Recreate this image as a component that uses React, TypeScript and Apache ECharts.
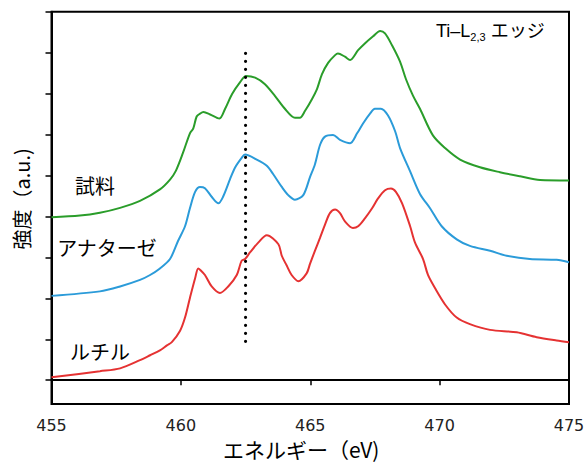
import React, { useEffect, useRef } from "react";
import * as echarts from "echarts";

// X axis: energy (eV)
const xTicks = [455, 460, 465, 470, 475];
// Y axis tick positions (arbitrary units, no labels)
const yTicks = [0, 1, 2, 3, 4, 5, 6, 7, 8, 9];

// 試料 (sample) – green
const sampleEV = [455.0, 456.1, 456.87, 457.65, 458.42, 459.19, 459.58, 459.81, 460.08, 460.35, 460.48, 460.61, 460.74, 460.87, 461.13, 461.49, 461.71, 461.98, 462.29, 462.52, 462.87, 463.25, 463.64, 464.02, 464.41, 464.6, 464.8, 465.07, 465.26, 465.45, 465.69, 465.96, 466.07, 466.34, 466.54, 466.85, 467.12, 467.43, 467.7, 467.89, 468.16, 468.47, 468.7, 468.97, 469.24, 469.74, 470.21, 470.79, 471.56, 472.33, 473.11, 473.88, 475.0];
const sampleI = [3.98, 4.02, 4.09, 4.21, 4.38, 4.66, 4.9, 5.12, 5.55, 6.03, 6.15, 6.44, 6.51, 6.55, 6.49, 6.39, 6.63, 6.99, 7.28, 7.43, 7.39, 7.23, 6.94, 6.63, 6.41, 6.41, 6.58, 6.87, 7.11, 7.47, 7.75, 7.94, 7.98, 7.9, 7.82, 8.06, 8.23, 8.4, 8.53, 8.47, 8.18, 7.78, 7.35, 6.95, 6.63, 5.98, 5.67, 5.39, 5.2, 5.08, 4.98, 4.89, 4.88];

// アナターゼ (anatase) – blue
const anataseEV = [455.0, 456.87, 457.65, 458.42, 458.81, 459.19, 459.58, 459.89, 460.16, 460.35, 460.55, 460.74, 460.93, 461.19, 461.45, 461.63, 461.9, 462.09, 462.35, 462.48, 462.93, 463.32, 463.57, 463.9, 464.15, 464.41, 464.73, 464.99, 465.18, 465.38, 465.57, 465.88, 466.15, 466.54, 466.81, 467.04, 467.31, 467.5, 467.73, 468.0, 468.28, 468.47, 468.86, 469.24, 469.63, 470.08, 470.66, 471.17, 471.95, 472.59, 473.49, 474.52, 475.0];
const anataseI = [2.06, 2.17, 2.29, 2.45, 2.57, 2.73, 2.96, 3.4, 3.76, 4.2, 4.6, 4.72, 4.69, 4.48, 4.32, 4.48, 4.91, 5.19, 5.43, 5.51, 5.39, 5.24, 5.03, 4.72, 4.52, 4.41, 4.52, 4.96, 5.27, 5.75, 5.95, 5.99, 5.87, 5.79, 6.03, 6.27, 6.51, 6.63, 6.63, 6.47, 6.08, 5.67, 5.1, 4.55, 4.2, 3.76, 3.44, 3.28, 3.16, 3.04, 2.96, 2.94, 2.88];

// ルチル (rutile) – red
const rutileEV = [455.0, 456.87, 457.65, 458.42, 458.81, 459.19, 459.46, 459.65, 459.97, 460.16, 460.35, 460.55, 460.67, 460.74, 460.93, 461.19, 461.51, 461.83, 462.16, 462.35, 462.48, 462.67, 462.99, 463.32, 463.77, 463.9, 464.09, 464.28, 464.54, 464.86, 464.99, 465.18, 465.38, 465.57, 465.76, 465.96, 466.15, 466.34, 466.65, 466.85, 467.12, 467.39, 467.62, 467.89, 468.12, 468.31, 468.55, 468.86, 469.05, 469.36, 469.55, 469.82, 470.21, 470.66, 471.17, 471.95, 472.98, 473.75, 474.52, 475.0];
const rutileI = [0.07, 0.22, 0.29, 0.49, 0.61, 0.73, 0.85, 0.93, 1.21, 1.53, 2.01, 2.49, 2.73, 2.7, 2.57, 2.29, 2.13, 2.29, 2.57, 2.92, 2.96, 3.12, 3.36, 3.54, 3.32, 3.04, 2.8, 2.57, 2.42, 2.61, 2.84, 3.16, 3.48, 3.8, 4.08, 4.17, 4.08, 3.88, 3.72, 3.76, 3.96, 4.2, 4.44, 4.64, 4.68, 4.6, 4.32, 3.76, 3.36, 2.96, 2.57, 2.25, 1.85, 1.53, 1.37, 1.23, 1.17, 1.05, 0.97, 0.93];

// dotted reference line
const markerEV = 462.5;
const markerRange = [0.95, 8.07];

const seriesNames = ["試料", "アナターゼ", "ルチル"];

const zip = (xs: number[], ys: number[]) => xs.map((x, i) => [x, ys[i]]);

const JP = "'Noto Sans CJK JP', 'Liberation Sans', sans-serif";
const LAT = "'Liberation Sans', 'Noto Sans CJK JP', sans-serif";

export default function App() {
  const ref = useRef<HTMLDivElement>(null);
  useEffect(() => {
    if (!ref.current) return;
    const chart = echarts.init(ref.current, null, { renderer: "svg" });
    const lineSeries = (name: string, xs: number[], ys: number[], color: string) => ({
      name,
      type: "line",
      data: zip(xs, ys),
      showSymbol: false,
      symbol: "none",
      smooth: 0.3,
      lineStyle: { color, width: 2 },
      z: 3,
    });
    chart.setOption({
      animation: false,
      backgroundColor: "#fff",
      grid: {
        left: 51.5,
        right: 19,
        top: 11.7,
        bottom: 52.3,
        show: true,
        borderColor: "#000",
        borderWidth: 2,
        containLabel: false,
      },
      xAxis: {
        type: "value",
        min: xTicks[0],
        max: xTicks[xTicks.length - 1],
        interval: 5,
        axisLine: { show: true, lineStyle: { color: "#000", width: 2 } },
        axisTick: { show: true, length: 5, inside: false, lineStyle: { color: "#000", width: 1.5 } },
        axisLabel: { fontSize: 16, color: "#222", fontFamily: "'DejaVu Sans', sans-serif", margin: 13 },
        splitLine: { show: false },
        name: "エネルギー（eV)",
        nameLocation: "middle",
        nameGap: 27,
        nameTextStyle: { fontSize: 21, color: "#000", fontFamily: JP, padding: [0, 18, 0, 0] },
      },
      yAxis: {
        type: "value",
        min: -0.583,
        max: 9,
        axisLine: { show: true, lineStyle: { color: "#000", width: 2 } },
        axisTick: { show: true, length: 6, inside: false, customValues: yTicks, lineStyle: { color: "#000", width: 1.5 } },
        axisLabel: { show: false },
        splitLine: { show: false },
        name: "強度（a.u.)",
        nameLocation: "middle",
        nameGap: 20,
        nameTextStyle: { fontSize: 20, color: "#000", fontFamily: JP, padding: [0, 0, 0, 18] },
      },
      series: [
        lineSeries(seriesNames[0], sampleEV, sampleI, "#2a9d2a"),
        lineSeries(seriesNames[1], anataseEV, anataseI, "#2b9bd9"),
        lineSeries(seriesNames[2], rutileEV, rutileI, "#e53232"),
        {
          name: "marker",
          type: "line",
          data: [[markerEV, markerRange[0]], [markerEV, markerRange[1]]],
          showSymbol: false,
          symbol: "none",
          lineStyle: { color: "#000", width: 3.2, type: [0.1, 7.9], cap: "round" },
          z: 4,
        },
      ],
      graphic: [
        {
          type: "text",
          left: 436,
          top: 22,
          style: {
            text: "{a|Ti–L}{s|2,3}{a| エッジ}",
            rich: {
              a: { fontSize: 18, fontFamily: LAT, fill: "#000", lineHeight: 24, verticalAlign: "middle" },
              s: { fontSize: 11, fontFamily: LAT, fill: "#000", lineHeight: 24, verticalAlign: "bottom" },
            },
          },
        },
        {
          type: "text",
          x: 95,
          y: 185,
          style: { text: seriesNames[0], fontSize: 20, fontFamily: JP, fill: "#000", align: "center", verticalAlign: "middle" },
        },
        {
          type: "text",
          x: 107,
          y: 247.5,
          style: { text: seriesNames[1], fontSize: 20, fontFamily: JP, fill: "#000", align: "center", verticalAlign: "middle" },
        },
        {
          type: "text",
          x: 100,
          y: 351.5,
          style: { text: seriesNames[2], fontSize: 20, fontFamily: JP, fill: "#000", align: "center", verticalAlign: "middle" },
        },
      ],
    });
    return () => chart.dispose();
  }, []);
  return (
    <div
      ref={ref}
      style={{ position: "fixed", left: 0, top: 0, width: 588, height: 464, background: "#fff" }}
    />
  );
}
